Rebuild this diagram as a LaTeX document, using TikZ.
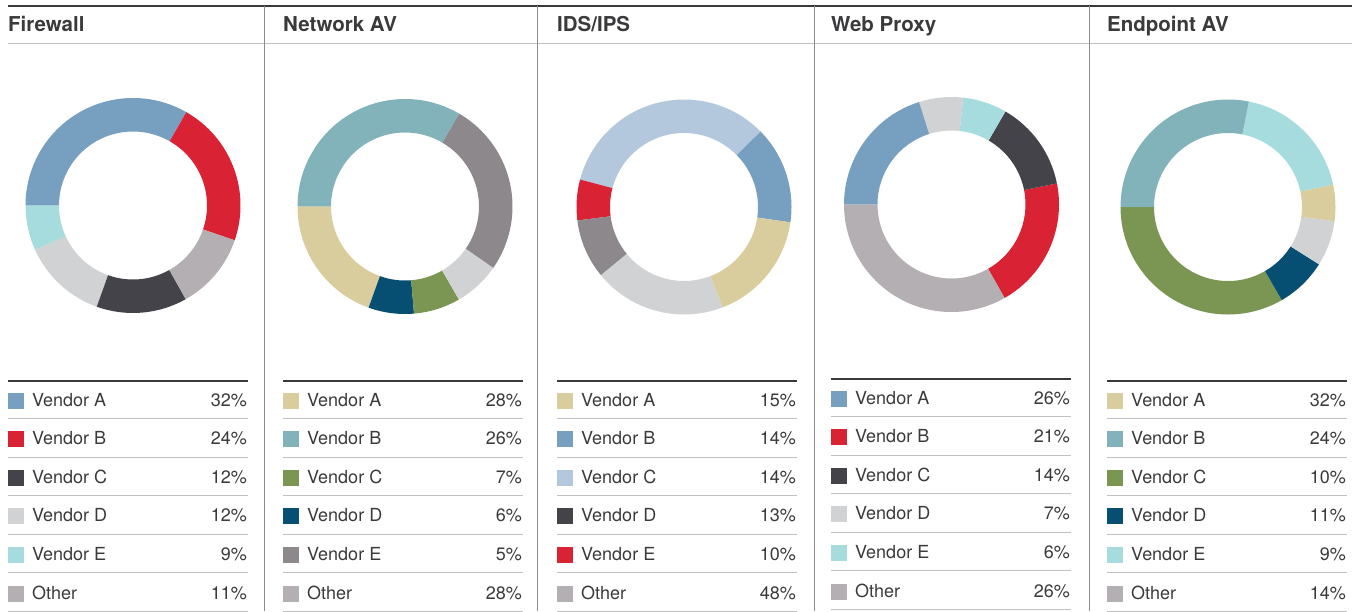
\documentclass[tikz,border=0pt]{standalone}
\usepackage{fontspec}
\setmainfont{TeX Gyre Heros}
\definecolor{txt}{HTML}{3A3A3C}
\definecolor{cBlue}{HTML}{779FC0}
\definecolor{cRed}{HTML}{D92234}
\definecolor{cDark}{HTML}{444349}
\definecolor{cLight}{HTML}{D1D2D4}
\definecolor{cCyan}{HTML}{A6DCDE}
\definecolor{cOther}{HTML}{B3AFB2}
\definecolor{cTeal}{HTML}{82B3BA}
\definecolor{cTan}{HTML}{D9CD9E}
\definecolor{cGreen}{HTML}{7A9652}
\definecolor{cNavy}{HTML}{064F72}
\definecolor{cGray}{HTML}{8D888C}
\definecolor{cPale}{HTML}{B3C8DD}
\begin{document}
\begin{tikzpicture}[x=1pt,y=1pt,yscale=-1]
\def\ro{107.5pt}
\def\ri{74pt}
\tikzset{head/.style={font=\bfseries\fontsize{20.5}{24}\selectfont,text=txt,anchor=base west,inner sep=0},
item/.style={font=\fontsize{18}{21}\selectfont,text=txt,anchor=base west,inner sep=0},
pct/.style={item,anchor=base east},swatch/.style={minimum size=16pt,inner sep=0,anchor=center},
toprule/.style={draw=txt,line width=2pt},rowrule/.style={draw=black!25,line width=1pt},
colrule/.style={draw=black!45,line width=1pt}}
\useasboundingbox (0,0) rectangle (1359,611);
% ring: centre x, centre y, start/end/colour
\def\donut#1#2#3{\begin{scope}[shift={(#1,#2)},yscale=-1]
\foreach \a/\b/\c in {#3}
\fill[\c] (\a:\ro) arc[start angle=\a,end angle=\b,radius=\ro] -- (\b:\ri) arc[start angle=\b,end angle=\a,radius=\ri] -- cycle;
\end{scope}}
% key: left x, y shift, colour/label/value, tag
\def\keylist#1#2#3#4{\draw[toprule] (#1,380.5+#2) -- ++(240,0);
\foreach \c/\t/\p [count=\i from 0] in {#3}{
\pgfmathsetmacro\yb{406+38.6*\i+#2}
\node[swatch,fill=\c] (#4s\i) at (#1+8,\yb-5.5) {};
\node[item] (#4t\i) at (#1+24,\yb) {\t};
\node[pct] (#4p\i) at (#1+239,\yb) {\p\%};
\draw[rowrule] (#1,\yb+12.4) -- ++(240,0);}}
\draw[toprule] (8,5.7) -- (1352,5.7);
\draw[rowrule] (8,43.5) -- (1352,43.5);
\foreach \x in {264.7,537.7,814,1089.5}
\draw[colrule] (\x,5.7) -- (\x,611);
\foreach \x/\t/\tag in {8/Firewall/fw,283/Network AV/nav,557/{IDS/IPS}/ids,831/Web Proxy/wp,1107/Endpoint AV/eav}
\node[head] (\tag) at (\x,31.5) {\t};
\donut{133}{205.5}{-18.9/60.4/cRed,60.4/180/cBlue,180/204.5/cCyan,204.5/250.3/cLight,250.3/299.4/cDark,299.4/341.1/cOther}
\donut{405}{206.5}{-34.9/59.8/cGray,59.8/180/cTeal,180/250.2/cTan,250.2/274.8/cNavy,274.8/300.1/cGreen,300.1/325.1/cLight}
\donut{684}{207}{-8.2/44.7/cBlue,44.7/165.2/cPale,165.2/187.2/cRed,187.2/219.4/cGray,219.4/291/cLight,291/351.8/cTan}
\donut{951.5}{204.5}{-60.4/11.3/cRed,11.3/59.9/cDark,59.9/83.7/cCyan,83.7/107.6/cLight,107.6/180/cBlue,180/299.6/cOther}
\donut{1228}{207}{12/78.8/cCyan,78.8/180/cTeal,180/300/cGreen,300/327.8/cNavy,327.8/352.4/cLight,352.4/372/cTan}
\keylist{8}{0}{cBlue/Vendor A/32,cRed/Vendor B/24,cDark/Vendor C/12,cLight/Vendor D/12,cCyan/Vendor E/9,cOther/Other/11}{fw}
\keylist{283}{0}{cTan/Vendor A/28,cTeal/Vendor B/26,cGreen/Vendor C/7,cNavy/Vendor D/6,cGray/Vendor E/5,cOther/Other/28}{nav}
\keylist{557}{0}{cTan/Vendor A/15,cBlue/Vendor B/14,cPale/Vendor C/14,cDark/Vendor D/13,cRed/Vendor E/10,cOther/Other/48}{ids}
\keylist{831}{-2}{cBlue/Vendor A/26,cRed/Vendor B/21,cDark/Vendor C/14,cLight/Vendor D/7,cCyan/Vendor E/6,cOther/Other/26}{wp}
\keylist{1107}{0}{cTan/Vendor A/32,cTeal/Vendor B/24,cGreen/Vendor C/10,cNavy/Vendor D/11,cCyan/Vendor E/9,cOther/Other/14}{eav}
\end{tikzpicture}
\end{document}
